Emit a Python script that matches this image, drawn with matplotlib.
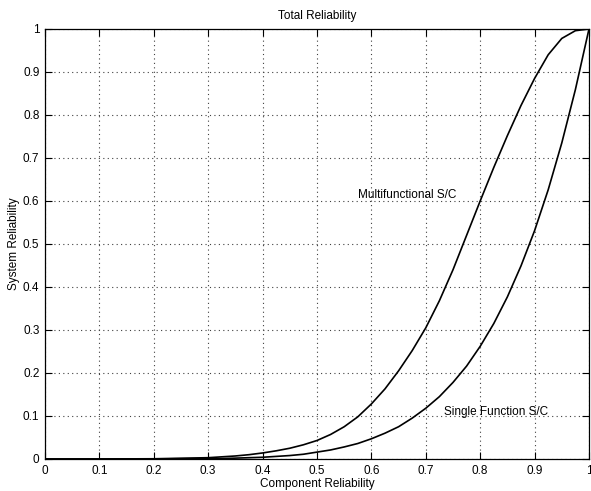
import numpy as np
import matplotlib.pyplot as plt

plt.rcParams['font.family'] = ['Liberation Sans', 'DejaVu Sans']

# component reliability (x) and system reliability
comp = [0, 0.1, 0.2, 0.3, 0.325, 0.35, 0.375, 0.4, 0.425, 0.45, 0.475, 0.5,
        0.525, 0.55, 0.575, 0.6, 0.625, 0.65, 0.675, 0.7, 0.725, 0.75,
        0.775, 0.8, 0.825, 0.85, 0.875, 0.9, 0.925, 0.95, 0.975, 1.0]
multi = [0, 0, 0.0005, 0.003, 0.005, 0.007, 0.010, 0.014, 0.019, 0.025, 0.033, 0.043,
         0.057, 0.075, 0.098, 0.128, 0.163, 0.205, 0.252, 0.305, 0.368, 0.44,
         0.52, 0.60, 0.678, 0.752, 0.822, 0.885, 0.94, 0.978, 0.996, 1.0]
single = [0, 0, 0.0001, 0.001, 0.001, 0.002, 0.003, 0.004, 0.006, 0.008, 0.011, 0.016,
          0.021, 0.028, 0.036, 0.047, 0.060, 0.075, 0.095, 0.118, 0.145, 0.178,
          0.216, 0.262, 0.315, 0.377, 0.449, 0.531, 0.626, 0.735, 0.859, 1.0]

ticks = [0, 0.1, 0.2, 0.3, 0.4, 0.5, 0.6, 0.7, 0.8, 0.9, 1]
tick_labels = ['0', '0.1', '0.2', '0.3', '0.4', '0.5', '0.6', '0.7', '0.8', '0.9', '1']

fig = plt.figure(figsize=(5.91, 4.91), dpi=100)
ax = fig.add_axes([0.0761, 0.0652, 0.9205, 0.8758])

ax.plot(comp, multi, color='black', linewidth=1.2)
ax.plot(comp, single, color='black', linewidth=1.2)

ax.text(0.575, 0.614, 'Multifunctional S/C', fontsize=8.5, va='center', ha='left')
ax.text(0.733, 0.110, 'Single Function S/C', fontsize=8.5, va='center', ha='left')

ax.set_xlim(0, 1)
ax.set_ylim(0, 1)
ax.set_xticks(ticks)
ax.set_xticklabels(tick_labels)
ax.set_yticks(ticks)
ax.set_yticklabels(tick_labels)
ax.tick_params(direction='in', length=5, width=0.8, top=True, right=True,
               labelsize=8.5, colors='black', pad=4)
ax.grid(True, linestyle=(0, (1, 3)), color='0.25', linewidth=0.8)
for s in ax.spines.values():
    s.set_linewidth(0.9)

ax.set_title('Total Reliability', fontsize=8.5, pad=7)
ax.set_xlabel('Component Reliability', fontsize=8.5, labelpad=1)
ax.set_ylabel('System Reliability', fontsize=8.5, labelpad=2)

fig.savefig('out.png', dpi=100)
